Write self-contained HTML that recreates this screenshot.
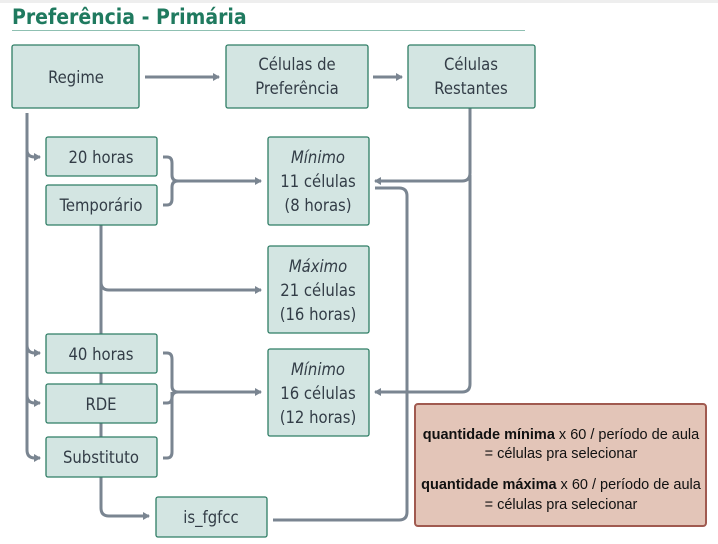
<!DOCTYPE html>
<html><head><meta charset="utf-8"><style>
body{margin:0;background:#fff;width:718px;height:539px;overflow:hidden}
svg text{font-family:"DejaVu Sans Condensed","Liberation Sans",sans-serif;fill:#333d47}
</style></head><body>
<svg width="718" height="539" xmlns="http://www.w3.org/2000/svg">
<defs><marker id="a" markerWidth="8" markerHeight="8" refX="6" refY="4" orient="auto" markerUnits="userSpaceOnUse"><path d="M0,0 L7,4 L0,8 z" fill="#7a8591"/></marker></defs>
<rect x="0" y="0" width="718" height="3" fill="#eee"/>
<text x="12" y="24" style="font:bold 21px 'DejaVu Sans Condensed','Liberation Sans',sans-serif;fill:#1f7a5f">Preferência - Primária</text>
<line x1="12" y1="30.5" x2="525" y2="30.5" stroke="#8fc0b2" stroke-width="1"/>
<g fill="none" stroke="#7a8591" stroke-width="3">
<path d="M145,77 H219" marker-end="url(#a)"/>
<path d="M373,77 H402" marker-end="url(#a)"/>
<path d="M27,113 V450 Q27,458 35,458 H40" marker-end="url(#a)"/>
<path d="M27,150 Q27,157 35,157 H40" marker-end="url(#a)"/>
<path d="M27,345 Q27,353 35,353 H40" marker-end="url(#a)"/>
<path d="M27,395 Q27,403 35,403 H40" marker-end="url(#a)"/>
<path d="M101,225 V440"/>
<path d="M101,282 Q101,290 109,290 H261" marker-end="url(#a)"/>
<path d="M163,157 H167 Q172,157 172,163 V175 Q172,181 178,181 H261" marker-end="url(#a)"/>
<path d="M163,205 H167 Q172,205 172,199 V187 Q172,181 178,181"/>
<path d="M163,353 H167 Q172,353 172,359 V386 Q172,392 178,392 H261" marker-end="url(#a)"/>
<path d="M163,403 H167 Q172,403 172,397 V392"/>
<path d="M163,458 H167 Q172,458 172,452 V398 Q172,392 178,392"/>
<path d="M470,108 V173 Q470,181 462,181 H375" marker-end="url(#a)"/>
<path d="M470,175 V384 Q470,392 462,392 H375" marker-end="url(#a)"/>
<path d="M101,477 V508 Q101,516 109,516 H149" marker-end="url(#a)"/>
<path d="M273,520 H399 Q407,520 407,512 V196 Q407,188 399,188 H375"/>
</g>
<g fill="#d3e5e2" stroke="#2e7d65" stroke-width="1.3">
<rect x="12" y="45" width="127" height="63" rx="2"/>
<rect x="226" y="45" width="142" height="63" rx="2"/>
<rect x="408" y="45" width="127" height="63" rx="2"/>
<rect x="46" y="137" width="111" height="39" rx="2"/>
<rect x="46" y="185" width="111" height="40" rx="2"/>
<rect x="268" y="137" width="101" height="88" rx="2"/>
<rect x="268" y="246" width="101" height="87" rx="2"/>
<rect x="46" y="334" width="111" height="39" rx="2"/>
<rect x="46" y="384" width="111" height="39" rx="2"/>
<rect x="46" y="437" width="111" height="40" rx="2"/>
<rect x="268" y="349" width="101" height="87" rx="2"/>
<rect x="156" y="497" width="111" height="40" rx="2"/>
</g>
<rect x="415" y="404" width="291" height="122" rx="3" fill="#e3c5b8" stroke="#a05a50" stroke-width="2"/>
<g font-size="16.5" text-anchor="middle">
<text x="76" y="83">Regime</text>
<text x="297" y="70">Células de</text>
<text x="297" y="94">Preferência</text>
<text x="471" y="70">Células</text>
<text x="471" y="94">Restantes</text>
<text x="101" y="163">20 horas</text>
<text x="101" y="211">Temporário</text>
<text x="318" y="163" font-style="italic">Mínimo</text>
<text x="318" y="187">11 células</text>
<text x="318" y="211">(8 horas)</text>
<text x="318" y="272" font-style="italic">Máximo</text>
<text x="318" y="296">21 células</text>
<text x="318" y="320">(16 horas)</text>
<text x="101" y="360">40 horas</text>
<text x="101" y="410">RDE</text>
<text x="101" y="463">Substituto</text>
<text x="318" y="375" font-style="italic">Mínimo</text>
<text x="318" y="399">16 células</text>
<text x="318" y="423">(12 horas)</text>
<text x="211" y="523">is_fgfcc</text>
</g>
<g font-size="14.5" text-anchor="middle">
<text x="561" y="439" style="font-family:'Liberation Sans',sans-serif;fill:#111"><tspan font-weight="bold">quantidade mínima</tspan> x 60 / período de aula</text>
<text x="561" y="458" style="font-family:'Liberation Sans',sans-serif;fill:#111">= células pra selecionar</text>
<text x="561" y="489" style="font-family:'Liberation Sans',sans-serif;fill:#111"><tspan font-weight="bold">quantidade máxima</tspan> x 60 / período de aula</text>
<text x="561" y="509" style="font-family:'Liberation Sans',sans-serif;fill:#111">= células pra selecionar</text>
</g>
</svg>
</body></html>
